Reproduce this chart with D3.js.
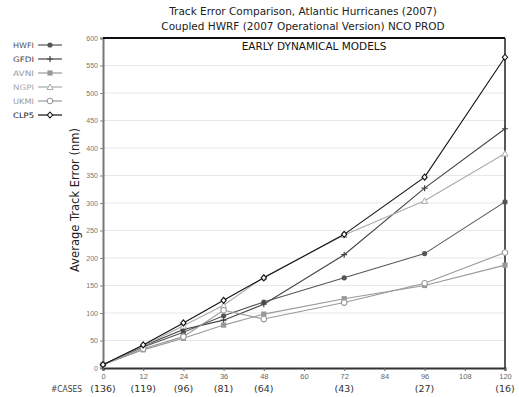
<!DOCTYPE html>
<html>
<head>
<meta charset="utf-8">
<script src="https://cdn.jsdelivr.net/npm/d3@7"></script>
<style>
  body { margin: 0; background: #fff; }
  svg { display: block; font-family: "DejaVu Sans", sans-serif; }
</style>
</head>
<body>
<svg id="chart" width="519" height="397"></svg>
<script>
const hours = [0, 12, 24, 36, 48, 72, 96, 120];
const cases = ['(136)', '(119)', '(96)', '(81)', '(64)', '(43)', '(27)', '(16)'];
const xTicks = [0, 12, 24, 36, 48, 60, 72, 84, 96, 108, 120];
const yTicks = [0, 50, 100, 150, 200, 250, 300, 350, 400, 450, 500, 550, 600];

const hwfi = [6, 38, 65, 95, 120, 164, 208, 302];
const gfdi = [6, 40, 70, 87, 116, 206, 327, 435];
const avni = [6, 33, 54, 78, 98, 126, 150, 187];
const ngpi = [6, 40, 77, 114, 165, 242, 304, 390];
const ukmi = [6, 35, 57, 105, 89, 119, 154, 210];
const clp5 = [6, 42, 82, 123, 164, 243, 347, 565];

const models = [
    { name: 'HWFI', values: hwfi, color: '#555', marker: 'dot' },
    { name: 'GFDI', values: gfdi, color: '#444', marker: 'plus' },
    { name: 'AVNI', values: avni, color: '#999', marker: 'square' },
    { name: 'NGPI', values: ngpi, color: '#aaa', marker: 'triangle' },
    { name: 'UKMI', values: ukmi, color: '#999', marker: 'ring' },
    { name: 'CLP5', values: clp5, color: '#111', marker: 'diamond' }
];

const svg = d3.select('#chart');
const margin = { top: 38, right: 14, bottom: 28, left: 103 };
const width = 519, height = 397;

const xScale = d3.scaleLinear()
    .domain([0, 120])
    .range([margin.left, width - margin.right]);

const yScale = d3.scaleLinear()
    .domain([0, 600])
    .range([height - margin.bottom - 1, margin.top]);

// grid lines
svg.append('g')
    .selectAll('line')
    .data(yTicks.slice(1, -1))
    .enter()
    .append('line')
    .attr('x1', margin.left)
    .attr('x2', width - margin.right)
    .attr('y1', d => yScale(d))
    .attr('y2', d => yScale(d))
    .attr('stroke', '#e8e8e8')
    .attr('stroke-width', 1);

// axes
const yAxis = d3.axisLeft(yScale).tickValues(yTicks).tickSize(3).tickPadding(2);
const gy = svg.append('g')
    .attr('transform', `translate(${margin.left},0)`)
    .call(yAxis);
gy.select('.domain').attr('stroke', '#777').attr('stroke-width', 2);
gy.selectAll('.tick line').attr('stroke', '#888');
gy.selectAll('text').attr('fill', '#777').attr('font-size', '7px');

const xAxis = d3.axisBottom(xScale).tickValues(xTicks).tickSize(3).tickPadding(3);
const gx = svg.append('g')
    .attr('transform', `translate(0,${yScale(0)})`)
    .call(xAxis);
gx.select('.domain').attr('stroke', '#333').attr('stroke-width', 2);
gx.selectAll('.tick line').attr('stroke', '#666');
gx.selectAll('text').attr('fill', '#666').attr('font-size', '7.5px');

// top + right frame
svg.append('line')
    .attr('x1', margin.left).attr('x2', width - margin.right)
    .attr('y1', yScale(600)).attr('y2', yScale(600))
    .attr('stroke', '#111').attr('stroke-width', 2);
svg.append('line')
    .attr('x1', width - margin.right).attr('x2', width - margin.right)
    .attr('y1', yScale(600)).attr('y2', yScale(0))
    .attr('stroke', '#222').attr('stroke-width', 1.5);

// markers
const drawMarker = (g, type, color) => {
    if (type === 'dot') {
        g.append('circle').attr('r', 2.6).attr('fill', color);
    } else if (type === 'plus') {
        g.append('path').attr('d', 'M-3,0H3M0,-3V3').attr('stroke', color).attr('stroke-width', 1.2);
    } else if (type === 'square') {
        g.append('rect').attr('x', -2.6).attr('y', -2.6).attr('width', 5.2).attr('height', 5.2).attr('fill', color);
    } else if (type === 'triangle') {
        g.append('path').attr('d', 'M0,-3L3,2.6L-3,2.6Z').attr('fill', 'white').attr('stroke', color);
    } else if (type === 'ring') {
        g.append('circle').attr('r', 2.8).attr('fill', 'white').attr('stroke', color).attr('stroke-width', 1.1);
    } else if (type === 'diamond') {
        g.append('path').attr('d', 'M0,-3L2.6,0L0,3L-2.6,0Z').attr('fill', 'white').attr('stroke', color).attr('stroke-width', 1.1);
    }
};

const line = d3.line()
    .x((_d, i) => xScale(hours[i]))
    .y(d => yScale(d));

models.forEach(m => {
    svg.append('path')
        .datum(m.values)
        .attr('fill', 'none')
        .attr('stroke', m.color)
        .attr('stroke-width', 1.1)
        .attr('d', line);

    m.values.forEach((v, i) => {
        const g = svg.append('g')
            .attr('transform', `translate(${xScale(hours[i])},${yScale(v)})`);
        drawMarker(g, m.marker, m.color);
    });
});

// legend
const legendGroup = svg.append('g')
    .attr('class', 'legend-group')
    .attr('transform', 'translate(13,45)');

models.forEach((m, i) => {
    const row = legendGroup.append('g').attr('transform', `translate(0,${i * 14})`);
    row.append('text')
        .attr('x', 0)
        .attr('y', 3)
        .attr('fill', m.color)
        .attr('font-size', '7.5px')
        .attr('textLength', 21)
        .attr('lengthAdjust', 'spacingAndGlyphs')
        .text(m.name);
    row.append('line')
        .attr('x1', 25).attr('x2', 49)
        .attr('stroke', m.color).attr('stroke-width', 1.2);
    const mk = row.append('g').attr('transform', 'translate(37,0)');
    drawMarker(mk, m.marker, m.color);
});

// titles
svg.append('text')
    .attr('x', 303).attr('y', 15)
    .attr('text-anchor', 'middle')
    .attr('font-size', '10.5px')
    .attr('fill', '#222')
    .text('Track Error Comparison,  Atlantic Hurricanes (2007)');

svg.append('text')
    .attr('x', 303).attr('y', 30)
    .attr('text-anchor', 'middle')
    .attr('font-size', '10.5px')
    .attr('fill', '#222')
    .text('Coupled HWRF (2007 Operational Version) NCO PROD');

svg.append('text')
    .attr('x', 314).attr('y', 50)
    .attr('text-anchor', 'middle')
    .attr('font-size', '10.5px')
    .attr('fill', '#111')
    .text('EARLY DYNAMICAL MODELS');

// y label
svg.append('text')
    .attr('text-anchor', 'middle')
    .attr('transform', `translate(79,200) rotate(-90)`)
    .attr('font-size', '11.5px')
    .attr('fill', '#222')
    .text('Average Track Error (nm)');

// cases row
svg.append('text')
    .attr('x', 51).attr('y', 392)
    .attr('font-size', '8px')
    .attr('fill', '#444')
    .attr('textLength', 31)
    .attr('lengthAdjust', 'spacingAndGlyphs')
    .text('#CASES');

svg.append('g')
    .selectAll('text')
    .data(cases)
    .enter()
    .append('text')
    .attr('x', (_d, i) => xScale(hours[i]))
    .attr('y', 392)
    .attr('text-anchor', 'middle')
    .attr('font-size', '9.5px')
    .attr('fill', '#333')
    .text(d => d);
</script>
</body>
</html>
